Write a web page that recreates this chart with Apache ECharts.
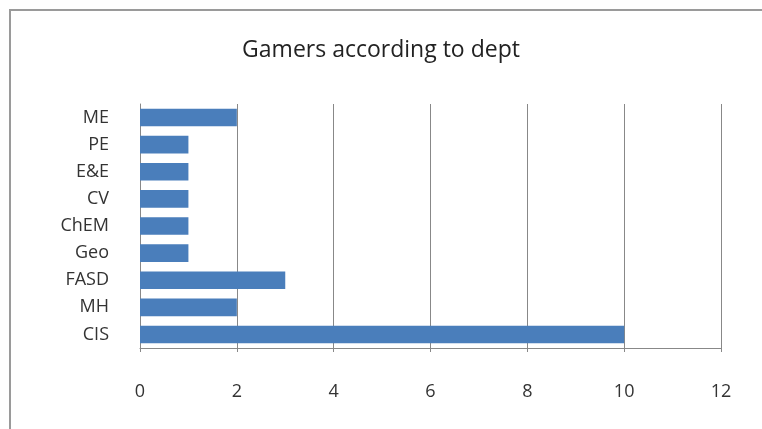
<!DOCTYPE html>
<html>
<head>
<meta charset="utf-8">
<script src="https://cdn.jsdelivr.net/npm/echarts@6/dist/echarts.min.js"></script>
<style>
  html, body { margin: 0; padding: 0; background: #fff; }
  #frame { position: absolute; left: 9px; top: 9px; width: 760px; height: 430px;
           border-top: 2px solid #9a9a9a; border-left: 2px solid #9a9a9a; }
  #chart { position: absolute; left: 0; top: 0; width: 762px; height: 429px; }
</style>
</head>
<body>
<div id="frame"></div>
<div id="chart"></div>
<script>
// departments, bottom to top as drawn
const depts = ["CIS", "MH", "FASD", "Geo", "ChEM", "CV", "E&E", "PE", "ME"];
const gamers = [10, 2, 3, 1, 1, 1, 1, 1, 2];

const chart = echarts.init(document.getElementById("chart"), null, { renderer: "canvas" });
const font = "'Open Sans', 'Noto Sans', sans-serif";

chart.setOption({
  backgroundColor: "transparent",
  animation: false,
  title: {
    text: "Gamers according to dept",
    left: "center",
    top: 34,
    textStyle: { fontFamily: font, fontSize: 23, fontWeight: "normal", color: "#222" },
  },
  grid: { left: 140, right: 41, top: 104, bottom: 81 },
  xAxis: {
    type: "value",
    min: 0,
    max: 12,
    interval: 2,
    axisLine: { show: true, lineStyle: { color: "#888", width: 1 } },
    axisTick: { show: true, length: 4, lineStyle: { color: "#888" } },
    axisLabel: { margin: 35, fontFamily: font, fontSize: 18, color: "#333" },
    splitLine: { show: true, lineStyle: { color: "#888", width: 1 } },
  },
  yAxis: {
    type: "category",
    data: depts,
    axisLine: { show: true, lineStyle: { color: "#888", width: 1 } },
    axisTick: { show: false },
    axisLabel: { margin: 31, fontFamily: font, fontSize: 18, color: "#333" },
  },
  series: [
    {
      type: "bar",
      data: gamers,
      barCategoryGap: "35%",
      itemStyle: { color: "#4a7ebb" },
    },
  ],
});
</script>
</body>
</html>
